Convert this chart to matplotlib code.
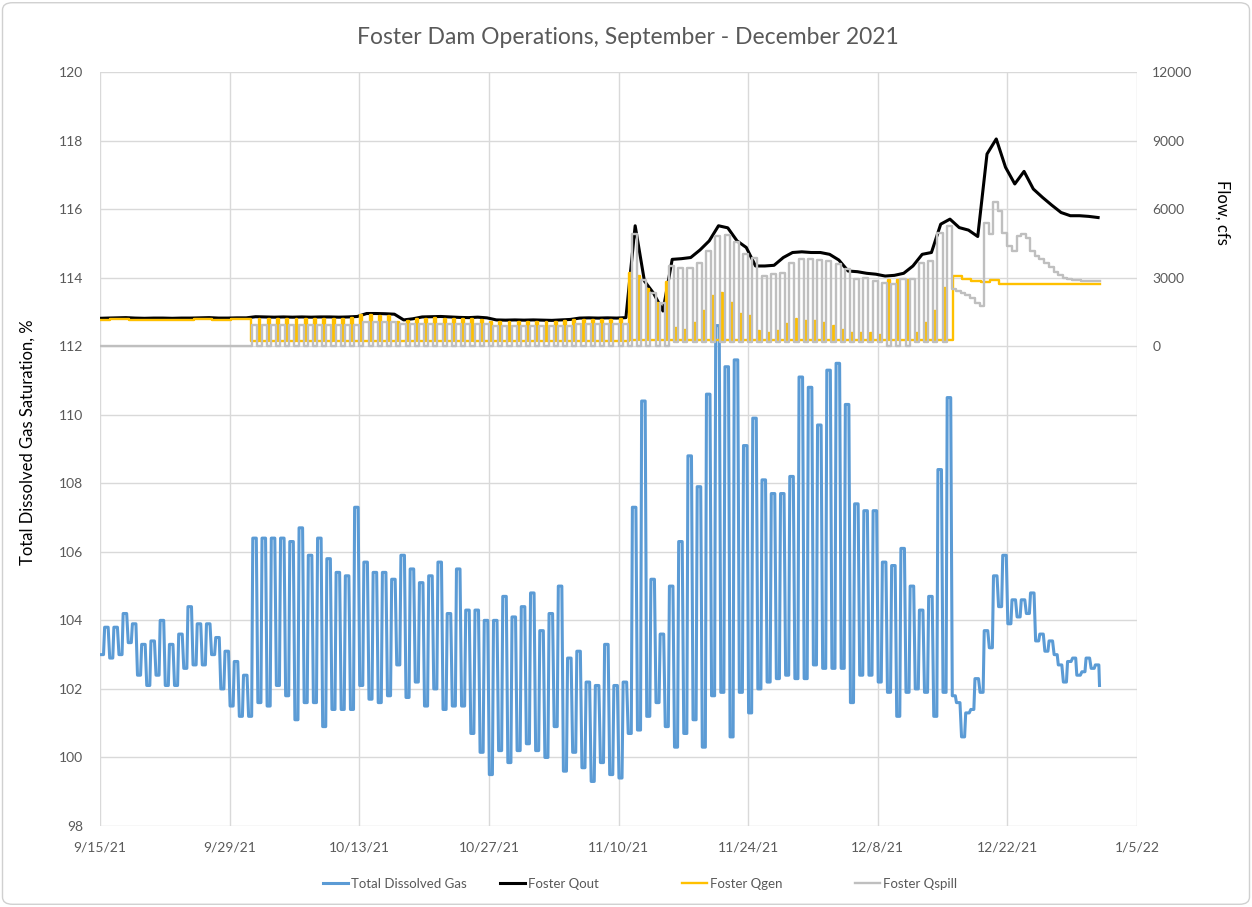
import numpy as np
import matplotlib.pyplot as plt
import matplotlib.dates as mdates
from matplotlib.patches import FancyBboxPatch
from datetime import datetime, timedelta

plt.rcParams['font.family'] = ['Lato', 'DejaVu Sans']

start = datetime(2021, 9, 15)
title = 'Foster Dam Operations, September - December 2021'

# Total dissolved gas, %: daily trough (before the peak) and daily peak, 9/15/21 .. 1/1/22
tdg_lo = [103.0, 102.9, 103.0, 103.35, 102.4, 102.1, 102.4, 102.1, 102.1, 102.6,
          102.7, 102.7, 103.0, 102.0, 101.5, 101.2, 101.2, 101.6, 101.5, 102.1,
          101.8, 101.1, 101.6, 101.6, 100.9, 101.4, 101.4, 101.4, 102.1, 101.7,
          101.6, 101.8, 102.7, 101.75, 102.2, 101.5, 102.0, 101.4, 101.5, 101.5,
          100.7, 100.15, 99.5, 100.2, 99.85, 100.2, 100.4, 100.2, 100.0, 100.9,
          99.6, 100.15, 99.7, 99.3, 99.85, 99.5, 99.4, 100.7, 100.8, 101.2,
          101.6, 100.9, 100.3, 100.7, 101.1, 100.3, 101.8, 101.9, 100.6, 101.9,
          101.3, 102.0, 102.2, 102.3, 102.4, 102.3, 102.3, 102.7, 102.6, 102.6,
          102.6, 101.6, 102.4, 102.4, 102.2, 101.9, 101.2, 101.9, 102.0, 101.9,
          101.2, 101.9, 101.8, 100.6, 101.4, 101.9, 103.2, 104.4, 103.9, 104.1,
          104.2, 103.4, 103.1, 103.0, 102.2, 102.9, 102.5, 102.6]
tdg_hi = [103.8, 103.8, 104.2, 103.9, 103.3, 103.4, 104.0, 103.3, 103.6, 104.4,
          103.9, 103.9, 103.5, 103.1, 102.8, 102.4, 106.4, 106.4, 106.4, 106.4,
          106.3, 106.7, 105.9, 106.4, 105.8, 105.4, 105.3, 107.3, 105.7, 105.4,
          105.4, 105.2, 105.9, 105.5, 105.1, 105.3, 105.7, 104.2, 105.5, 104.3,
          104.3, 104.0, 104.0, 104.7, 104.1, 104.4, 104.8, 103.7, 104.2, 105.0,
          102.9, 103.1, 102.2, 102.1, 103.3, 102.1, 102.2, 107.3, 110.4, 105.2,
          103.6, 105.0, 106.3, 108.8, 107.9, 110.6, 112.6, 111.4, 111.6, 109.1,
          109.9, 108.1, 107.7, 107.7, 108.2, 111.1, 110.8, 109.7, 111.3, 111.5,
          110.3, 107.4, 107.2, 107.2, 105.7, 105.6, 106.1, 105.0, 104.3, 104.7,
          108.4, 110.5, 101.6, 101.3, 102.3, 103.7, 105.3, 105.9, 104.6, 104.6,
          104.8, 103.6, 103.4, 102.7, 102.8, 102.4, 102.9, 102.7]
tdg_start = 103.0
tdg_end = 102.1

# Foster Qout, cfs (daily)
qout_start = 1220
qout = [1230, 1240, 1250, 1230, 1220, 1230, 1230, 1220, 1230, 1230,
        1240, 1250, 1230, 1230, 1240, 1240, 1290, 1280, 1270, 1280,
        1270, 1280, 1270, 1280, 1280, 1270, 1280, 1300, 1430, 1430,
        1420, 1400, 1150, 1200, 1280, 1290, 1300, 1280, 1260, 1250,
        1270, 1240, 1150, 1140, 1150, 1140, 1150, 1140, 1130, 1150,
        1170, 1230, 1240, 1230, 1240, 1230, 1250, 5270, 2850, 2310,
        1540, 3800, 3830, 3880, 4210, 4610, 5270, 5180, 4610, 4320,
        3510, 3510, 3540, 3880, 4100, 4130, 4100, 4100, 4020, 3770,
        3290, 3260, 3190, 3150, 3070, 3100, 3190, 3510, 4020, 4100,
        5340, 5560, 5190, 5080, 4800, 8410, 9070, 7830, 7100, 7650,
        6880, 6510, 6170, 5850, 5710, 5710, 5680, 5630]

# Foster Qgen, cfs: outside the daily spill window / during it
qgen_off = [1160, 1170, 1180, 1160, 1150, 1160, 1160, 1150, 1160, 1160,
            1170, 1180, 1160, 1160, 1170, 1170, 1210, 1200, 1190, 1200,
            1190, 1200, 1190, 1200, 1200, 1190, 1200, 1220, 1350, 1350,
            1340, 1320, 1080, 1120, 1200, 1210, 1220, 1200, 1180, 1170,
            1190, 1160, 1070, 1060, 1070, 1060, 1070, 1060, 1050, 1070,
            1090, 1150, 1160, 1150, 1160, 1150, 1170, 3200, 3070, 2490,
            1900, 2800, 800, 730, 1020, 1540, 2200, 2340, 1900, 1390,
            1320, 660, 590, 660, 950, 1170, 1100, 1100, 1020, 880,
            730, 590, 560, 560, 500, 2900, 2900, 2900, 585, 1020,
            1540, 2560, 3050, 2950, 2850, 2830, 2880, 2700, 2700, 2700,
            2700, 2700, 2700, 2700, 2700, 2700, 2700, 2700]
qgen_on = [1160, 1170, 1180, 1160, 1150, 1160, 1160, 1150, 1160, 1160,
           1170, 1180, 1160, 1160, 1170, 1170, 220, 220, 220, 220,
           220, 220, 220, 220, 220, 220, 220, 220, 220, 220,
           220, 220, 220, 220, 220, 220, 220, 220, 220, 220,
           220, 220, 220, 220, 220, 220, 220, 220, 220, 220,
           220, 220, 220, 220, 220, 220, 220, 250, 250, 250,
           250, 250, 290, 290, 290, 290, 290, 290, 290, 290,
           290, 290, 290, 290, 290, 290, 290, 290, 290, 290,
           290, 290, 290, 290, 290, 290, 290, 290, 290, 290,
           290, 290, 3050, 2950, 2850, 2830, 2900, 2700, 2700, 2700,
           2700, 2700, 2700, 2700, 2700, 2700, 2700, 2700]

# Foster Qspill, cfs: outside the daily spill window / during it
qspill_off = [0, 0, 0, 0, 0, 0, 0, 0, 0, 0,
              0, 0, 0, 0, 0, 0, 0, 0, 0, 0,
              0, 0, 0, 0, 0, 0, 0, 0, 0, 0,
              0, 0, 0, 0, 0, 0, 0, 0, 0, 0,
              0, 0, 0, 0, 0, 0, 0, 0, 0, 0,
              0, 0, 0, 0, 0, 0, 0, 0, 0, 0,
              0, 0, 200, 200, 200, 200, 200, 200, 200, 200,
              200, 200, 200, 200, 200, 200, 200, 200, 200, 200,
              200, 200, 200, 200, 200, 0, 0, 0, 200, 200,
              200, 200, 2490, 2310, 2120, 1760, 4900, 5920, 4390, 4830,
              4750, 3950, 3630, 3250, 2980, 2900, 2870, 2850]
qspill_on = [0, 0, 0, 0, 0, 0, 0, 0, 0, 0,
             0, 0, 0, 0, 0, 0, 920, 920, 920, 920,
             920, 920, 920, 920, 920, 920, 920, 920, 1060, 1060,
             1060, 1060, 960, 960, 960, 960, 960, 960, 960, 960,
             960, 960, 900, 900, 900, 900, 900, 900, 900, 900,
             900, 960, 960, 960, 960, 960, 960, 4900, 2900, 2340,
             1900, 3500, 3440, 3440, 3660, 4170, 4830, 4860, 4540, 4020,
             3880, 3070, 3150, 3220, 3660, 3800, 3800, 3770, 3730, 3580,
             3360, 2930, 3000, 2850, 2780, 2710, 2930, 2930, 3660, 3730,
             4970, 5270, 2410, 2220, 1900, 5410, 6290, 4970, 4170, 4900,
             4170, 3800, 3480, 3100, 2940, 2890, 2860, 2850]

legend_labels = ['Total Dissolved Gas', 'Foster Qout', 'Foster Qgen', 'Foster Qspill']

# time axis
base = mdates.date2num(start)
days = np.arange(len(tdg_hi))

# TDG: low through the morning, high while spilling, quick drop at night
tdg_t = np.concatenate([[0], np.column_stack([days + 0.05, days + 0.38, days + 0.5, days + 0.88]).ravel(),
                        [days[-1] + 0.95]])
tdg_v = np.concatenate([[tdg_start], np.column_stack([tdg_lo, tdg_lo, tdg_hi, tdg_hi]).ravel(), [tdg_end]])

qout_t = np.concatenate([[0], days + 0.8])
qout_v = np.concatenate([[qout_start], qout])

# spill runs from ~d+0.45 to the end of the day; generation steps up inside the gap
spill_t = np.concatenate([np.column_stack([days, days + 0.45]).ravel(), [days[-1] + 1]])
spill_v = np.concatenate([np.column_stack([qspill_off, qspill_on]).ravel(), [qspill_on[-1]]])
gen_t = np.concatenate([[0], np.column_stack([days + 0.12, days + 0.33]).ravel(), [days[-1] + 1]])
gen_v = np.concatenate([[qgen_off[0]], np.column_stack([qgen_off, qgen_on]).ravel(), [qgen_on[-1]]])

fig = plt.figure(figsize=(12.52, 9.07), dpi=100)
ax = fig.add_axes([100 / 1252, 1 - 826 / 907, 1037 / 1252, 754 / 907])
ax2 = ax.twinx()

l1, = ax.plot(base + tdg_t, tdg_v, color='#5B9BD5', lw=2.2, label=legend_labels[0])
l2, = ax2.plot(base + qout_t, qout_v, color='black', lw=2.2, label=legend_labels[1])
l3, = ax2.step(base + gen_t, gen_v, where='post', color='#FFC000', lw=1.7, label=legend_labels[2])
l4, = ax2.step(base + spill_t, spill_v, where='post', color='#BFBFBF', lw=1.7, label=legend_labels[3])

ax.set_xlim(base, base + 112)
ax.set_ylim(98, 120)
ax2.set_ylim(-21000, 12000)
ax.set_yticks(np.arange(98, 121, 2))
ax2.set_yticks(np.arange(0, 12001, 3000))

tick_dates = [start + timedelta(days=14 * i) for i in range(9)]
ax.set_xticks([mdates.date2num(t) for t in tick_dates])
ax.set_xticklabels([f'{t.month}/{t.day}/{t.year % 100}' for t in tick_dates])

ax.set_axisbelow(True)
ax.grid(True, color='#D9D9D9', lw=1)
for a in (ax, ax2):
    for s in a.spines.values():
        s.set_visible(False)
    a.tick_params(length=0, labelsize=10, colors='#595959')
ax.tick_params(axis='y', pad=12)
ax.tick_params(axis='x', pad=11)
ax2.tick_params(axis='y', pad=11)

fig.text(628 / 1252, 1 - 37 / 907, title, ha='center', va='center', fontsize=16.5, color='#595959')
fig.text(28 / 1252, 1 - 442 / 907, 'Total Dissolved Gas Saturation, %', rotation=90,
         ha='center', va='center', fontsize=12, color='black')
fig.text(1222 / 1252, 1 - 212 / 907, 'Flow, cfs', rotation=270,
         ha='center', va='center', fontsize=12, color='black')

# legend entries placed one by one, as in the original layout
handles = [l1, l2, l3, l4]
legend_x = [323, 500, 682, 855]
for h, lab, x0 in zip(handles, legend_labels, legend_x):
    fig.legend([h], [lab], loc='center left', bbox_to_anchor=(x0 / 1252, 1 - 884 / 907),
               frameon=False, fontsize=9.5, labelcolor='#595959', borderpad=0, borderaxespad=0,
               handlelength=1.9, handletextpad=0.25)

fig.patches.append(FancyBboxPatch((0.002, 0.003), 0.996, 0.994, boxstyle='round,pad=0,rounding_size=0.008',
                                  transform=fig.transFigure, fill=False, ec='#D0D0D0', lw=1))

fig.savefig('out.png', dpi=100)
